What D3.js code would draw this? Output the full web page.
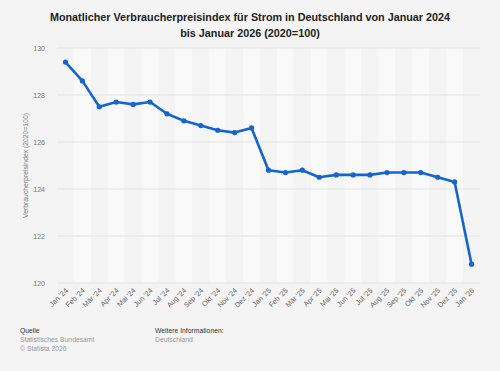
<!DOCTYPE html>
<html>
<head>
<meta charset="utf-8">
<script src="https://cdn.jsdelivr.net/npm/d3@7"></script>
<style>
  body { margin: 0; background: #f4f4f4; }
  svg { display: block; font-family: "Liberation Sans", Arial, sans-serif; }
</style>
</head>
<body>
<div id="container"></div>
<script>
/* chart data */
const months = ["Jan '24","Feb '24","Mär '24","Apr '24","Mai '24","Jun '24","Jul '24","Aug '24","Sep '24","Okt '24","Nov '24","Dez '24",
                "Jan '25","Feb '25","Mär '25","Apr '25","Mai '25","Jun '25","Jul '25","Aug '25","Sep '25","Okt '25","Nov '25","Dez '25","Jan '26"]
const values = [129.4,128.6,127.5,127.7,127.6,127.7,127.2,126.9,126.7,126.5,126.4,126.6,
                124.8,124.7,124.8,124.5,124.6,124.6,124.6,124.7,124.7,124.7,124.5,124.3,120.8]
const yTicks = [120,122,124,126,128,130]

const width = 500
const height = 371
const plot = {left: 57, right: 480, top: 48, bottom: 283}

const svg = d3.select("#container").append("svg")
              .attr("width", width)
              .attr("height", height)
svg.append("rect").attr("width", width).attr("height", height).attr("fill", "#f4f4f4")

/* title */
const title = svg.append("text")
  .attr("text-anchor", "middle")
  .attr("font-weight", "bold")
  .attr("font-size", 10.8)
  .attr("fill", "#222")
title.append("tspan").attr("x", 250).attr("y", 21).text("Monatlicher Verbraucherpreisindex für Strom in Deutschland von Januar 2024")
title.append("tspan").attr("x", 250).attr("y", 37).text("bis Januar 2026 (2020=100)")

const x = d3.scaleBand().domain(months).range([plot.left, plot.right])
const y = d3.scaleLinear().domain([120, 130]).range([plot.bottom, plot.top])

/* alternating column stripes */
svg.selectAll("rect.band")
   .data(months)
   .enter()
   .append("rect")
   .attr("class", "band")
   .attr("x", (d) => x(d))
   .attr("y", plot.top)
   .attr("width", x.bandwidth())
   .attr("height", plot.bottom - plot.top)
   .attr("fill", (d, i) => i % 2 === 0 ? "#f4f4f4" : "#f9f9f9")

/* gridlines + y labels */
svg.selectAll("line.grid")
   .data(yTicks)
   .enter()
   .append("line")
   .attr("x1", plot.left)
   .attr("x2", plot.right)
   .attr("y1", (d) => y(d))
   .attr("y2", (d) => y(d))
   .attr("stroke", "#e3e3e3")
   .attr("stroke-width", 1)
svg.selectAll("text.ytick")
   .data(yTicks)
   .enter()
   .append("text")
   .attr("x", 45)
   .attr("y", (d) => y(d) + 2.5)
   .attr("text-anchor", "end")
   .attr("font-size", 7)
   .attr("fill", "#777")
   .text((d) => d)

svg.append("text")
   .attr("transform", "translate(28," + ((plot.top + plot.bottom) / 2) + ") rotate(-90)")
   .attr("text-anchor", "middle")
   .attr("font-size", 6.8)
   .attr("fill", "#777")
   .text("Verbraucherpreisindex (2020=100)")

/* x labels */
svg.selectAll("text.xtick")
   .data(months)
   .enter()
   .append("text")
   .attr("transform", (d) => "translate(" + (x(d) + x.bandwidth() / 2 + 3) + "," + (plot.bottom + 8) + ") rotate(-45)")
   .attr("text-anchor", "end")
   .attr("font-size", 7.2)
   .attr("fill", "#666")
   .text((d) => d)

/* line */
const line = d3.line()
  .x((d, i) => x(months[i]) + x.bandwidth() / 2)
  .y((d) => y(d))
svg.append("path")
   .datum(values)
   .attr("d", line)
   .attr("fill", "none")
   .attr("stroke", "#1464d2")
   .attr("stroke-width", 2.6)
   .attr("stroke-linejoin", "round")
svg.selectAll("circle.pt")
   .data(values)
   .enter()
   .append("circle")
   .attr("cx", (d, i) => x(months[i]) + x.bandwidth() / 2)
   .attr("cy", (d) => y(d))
   .attr("r", 2.6)
   .attr("fill", "#1464d2")

/* footer */
const footer = [
  {x: 20, y: 333, t: "Quelle", c: "#333"},
  {x: 20, y: 342, t: "Statistisches Bundesamt", c: "#999"},
  {x: 20, y: 351, t: "© Statista 2026", c: "#999"},
  {x: 155, y: 333, t: "Weitere Informationen:", c: "#333"},
  {x: 155, y: 342, t: "Deutschland", c: "#999"}
]
svg.selectAll("text.foot")
   .data(footer)
   .enter()
   .append("text")
   .attr("x", (d) => d.x)
   .attr("y", (d) => d.y)
   .attr("font-size", 6.8)
   .attr("fill", (d) => d.c)
   .text((d) => d.t)
</script>
</body>
</html>
